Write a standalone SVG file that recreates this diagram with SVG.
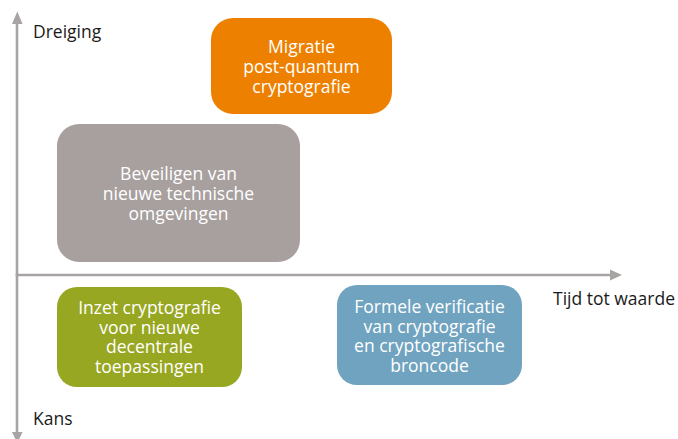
<svg xmlns="http://www.w3.org/2000/svg" width="678" height="439" viewBox="0 0 678 439">
  <style>
    .axis { stroke: #a9a4a4; stroke-width: 2.6; fill: none; }
    .head { fill: #a9a4a4; }
    .lbl { font-family: "Open Sans", "Liberation Sans", sans-serif; font-size: 17.5px; fill: #1a1a1a; }
    .box text { font-family: "Open Sans", "Liberation Sans", sans-serif; font-size: 17.5px; fill: #ffffff; text-anchor: middle; }
  </style>
  <rect width="678" height="439" fill="#ffffff"/>

  <!-- axes -->
  <g id="connectors">
    <line class="axis" x1="17" y1="22" x2="17" y2="434"/>
    <polygon class="head" points="17.3,11.5 12,24 22.6,24"/>
    <polygon class="head" points="17.3,443 12,432 22.6,432"/>
    <line class="axis" x1="15.7" y1="275" x2="612" y2="275"/>
    <polygon class="head" points="622,275 610,269.5 610,280.5"/>
  </g>

  <g id="axis-labels">
    <text class="lbl" x="33" y="38">Dreiging</text>
    <text class="lbl" x="33" y="425">Kans</text>
    <text class="lbl" x="553" y="305">Tijd tot waarde</text>
  </g>

  <g id="migratie" class="box">
    <rect x="211" y="18" width="181" height="96" rx="22" fill="#ee8000"/>
    <text x="301.5" y="52.5">Migratie</text>
    <text x="301.5" y="72.8">post-quantum</text>
    <text x="301.5" y="93">cryptografie</text>
  </g>

  <g id="beveiligen" class="box">
    <rect x="57" y="124" width="243" height="138" rx="22" fill="#a8a09f"/>
    <text x="178.5" y="180">Beveiligen van</text>
    <text x="178.5" y="200">nieuwe technische</text>
    <text x="178.5" y="220">omgevingen</text>
  </g>

  <g id="inzet" class="box">
    <rect x="57" y="287" width="185" height="100" rx="20" fill="#98a722"/>
    <text x="149.5" y="314">Inzet cryptografie</text>
    <text x="149.5" y="333.5">voor nieuwe</text>
    <text x="149.5" y="353">decentrale</text>
    <text x="149.5" y="372.5">toepassingen</text>
  </g>

  <g id="formele" class="box">
    <rect x="337" y="285" width="185" height="100" rx="20" fill="#6fa3bf"/>
    <text x="429.5" y="313">Formele verificatie</text>
    <text x="429.5" y="332.5">van cryptografie</text>
    <text x="429.5" y="352">en cryptografische</text>
    <text x="429.5" y="371.5">broncode</text>
  </g>
</svg>
